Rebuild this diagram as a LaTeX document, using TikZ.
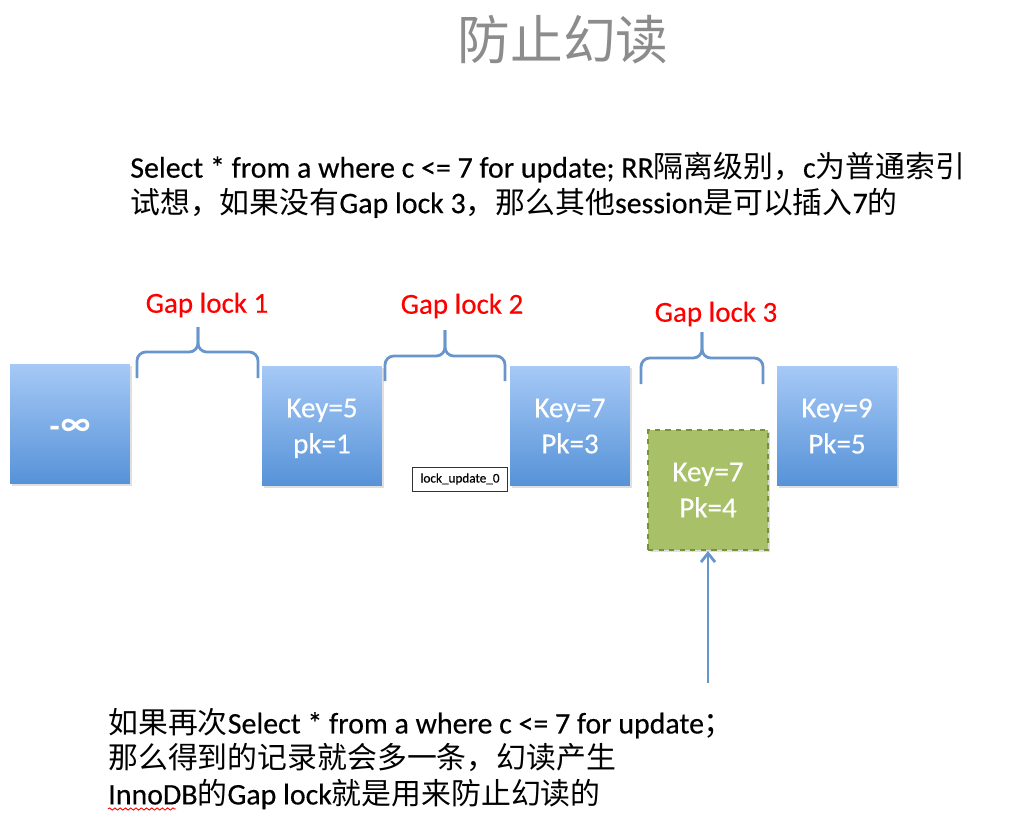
\documentclass[tikz,border=0pt]{standalone}
\usepackage{fontspec}
\setmainfont{Carlito}[FakeBold=0.35]
\newfontfamily\cjk{Noto Sans CJK SC}
\usetikzlibrary{arrows.meta, positioning, shadows, decorations.pathmorphing}

\definecolor{recTop}{RGB}{166,201,246}
\definecolor{recBot}{RGB}{86,146,216}
\definecolor{insFill}{RGB}{168,192,104}
\definecolor{insLine}{RGB}{118,146,60}
\definecolor{braceBlue}{RGB}{104,150,204}
\definecolor{titleGray}{RGB}{140,140,140}

\newcommand{\zh}[1]{{\cjk #1}}

\begin{document}
\begin{tikzpicture}[x=0.02cm, y=-0.02cm,
  rec/.style={rectangle, minimum width=2.4cm, minimum height=2.4cm, inner sep=0pt,
    top color=recTop, bottom color=recBot, text=white, align=center,
    font=\fontsize{16.5}{20.5}\selectfont, text depth=0pt,
    drop shadow={opacity=0.25, shadow xshift=1pt, shadow yshift=-1.2pt}},
  insrec/.style={rec, top color=insFill, bottom color=insFill, draw=insLine,
    dashed, line width=1.2pt},
  gapbrace/.style={draw=braceBlue, line width=1.6pt, rounded corners=5pt},
  gaplabel/.style={text=red, font=\fontsize{16.5}{19}\selectfont},
  para/.style={anchor=north west, align=left, inner sep=0pt,
    font=\fontsize{17}{20.2}\selectfont},
  arrow/.style={-{Straight Barb[length=5pt, width=8pt]}, draw=braceBlue, line width=1.6pt}
]
\useasboundingbox (0,0) rectangle (1013,824);

\node[font=\cjk\fontsize{30}{36}\selectfont, text=titleGray] (title) at (563,40) {防止幻读};

\node[para] (sql) at (130,152) {Select * from a where c <= 7 for update; RR\zh{隔离级别，}c\zh{为普通索引}\\
  \zh{试想，如果没有}Gap lock 3\zh{，那么其他}session\zh{是可以插入}7\zh{的}};

% index records
\node[rec] (inf) at (70,424)  {\raisebox{-4.5pt}{\zh{\bfseries -∞}}};
\node[rec] (k5)  at (322,426) {Key=5\\pk=1};
\node[rec] (k7)  at (570,426) {Key=7\\Pk=3};
\node[rec] (k9)  at (837,426) {Key=9\\Pk=5};
\node[insrec] (ins) at (708,490) {Key=7\\Pk=4};

% gaps
\draw[gapbrace] (137,378) -- (137,352) -- (198,352) -- (198,327);
\draw[gapbrace] (258,378) -- (258,352) -- (198,352) -- (198,327);
\draw[gapbrace] (385,381) -- (385,356) -- (445,356) -- (445,330);
\draw[gapbrace] (505,381) -- (505,356) -- (445,356) -- (445,330);
\draw[gapbrace] (641,384) -- (641,358) -- (702,358) -- (702,332);
\draw[gapbrace] (763,384) -- (763,358) -- (702,358) -- (702,332);

\node[gaplabel] (gl1) at (207,305) {Gap lock 1};
\node[gaplabel] (gl2) at (462,306) {Gap lock 2};
\node[gaplabel] (gl3) at (716,314) {Gap lock 3};

\node[draw=black!80, fill=white, inner sep=2.5pt, minimum width=1.9cm, minimum height=0.48cm,
  font=\fontsize{7.5}{8}\selectfont] (tag) at (460,479) {lock\_update\_0};

\coordinate (src) at (708,683);
\draw[arrow] (src) -- (ins.south);

\node[para] (note) at (108,708) {\zh{如果再次}Select * from a where c <= 7 for update\zh{；}\\
  \zh{那么得到的记录就会多一条，幻读产生}\\
  InnoDB\zh{的}Gap lock\zh{就是用来防止幻读的}};
\draw[red, line width=0.5pt, decorate, decoration={snake, amplitude=0.6pt, segment length=3pt}]
  (108,809) -- (176,809);
\end{tikzpicture}
\end{document}
